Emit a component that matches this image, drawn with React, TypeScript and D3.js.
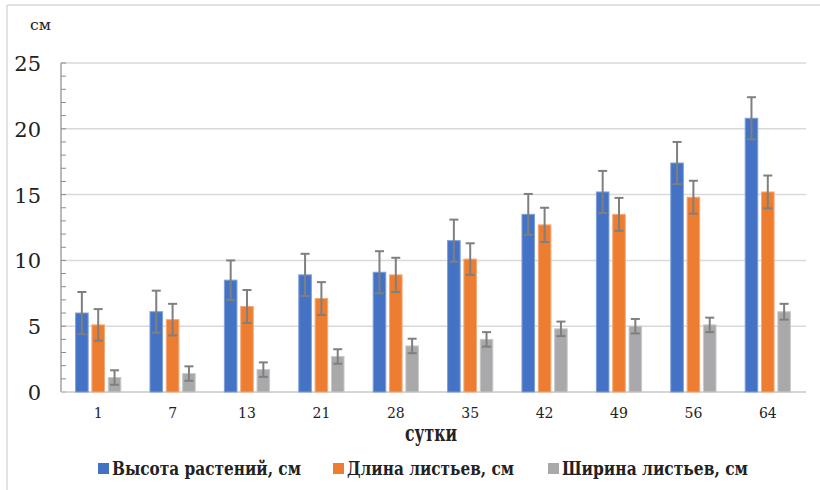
import React from "react";
import * as d3 from "d3";

const categories = ["1", "7", "13", "21", "28", "35", "42", "49", "56", "64"];
const seriesNames = ["Высота растений, см", "Длина листьев, см", "Ширина листьев, см"];
const heightValues = [6.0, 6.1, 8.5, 8.9, 9.1, 11.5, 13.5, 15.2, 17.4, 20.8];
const heightErrors = [1.6, 1.6, 1.5, 1.6, 1.6, 1.6, 1.55, 1.6, 1.6, 1.6];
const lengthValues = [5.1, 5.5, 6.5, 7.1, 8.9, 10.1, 12.7, 13.5, 14.8, 15.2];
const lengthErrors = [1.2, 1.2, 1.25, 1.25, 1.3, 1.2, 1.3, 1.25, 1.25, 1.25];
const widthValues = [1.1, 1.4, 1.7, 2.7, 3.5, 4.0, 4.8, 5.0, 5.1, 6.1];
const widthErrors = [0.55, 0.55, 0.55, 0.55, 0.55, 0.55, 0.55, 0.55, 0.55, 0.6];
const yTicks = [0, 5, 10, 15, 20, 25];
const colors = ["#4472C4", "#ED7D31", "#A9A9AC"];
const strokes = ["#7f9fd8", "#f5a978", "#c9c9cb"];

export default function App() {
  const W = 820, H = 490;
  const left = 61, right = 805, top = 63, bottom = 392;
  const x0 = d3.scaleBand<string>().domain(categories).range([left, right]);
  const x1 = d3.scaleBand<number>().domain([0, 1, 2]).range([-24.5, 24.5]).paddingInner(0.23).paddingOuter(0.115);
  const y = d3.scaleLinear().domain([0, 25]).range([bottom, top]);
  const values = [heightValues, lengthValues, widthValues];
  const errors = [heightErrors, lengthErrors, widthErrors];
  const minor = d3.range(0, 26);
  const serif = "'DejaVu Serif', serif";
  const legendX = [98, 333, 548];
  const legendLen = [189, 167, 186];
  const ts: React.CSSProperties = { fontFamily: serif };

  return (
    <svg width={W} height={H} style={{ position: "absolute", left: 0, top: 0, fontFamily: serif }}>
      <rect x={0} y={0} width={W} height={H} fill="#fff" />
      <line x1={7} x2={7} y1={5} y2={H} stroke="#d9d9d9" strokeWidth={1.5} />
      <line x1={7} x2={W} y1={5} y2={5} stroke="#d9d9d9" strokeWidth={1.5} />
      <text x={30} y={30} fontSize={15} fill="#222" style={ts} textLength={21} lengthAdjust="spacingAndGlyphs">см</text>
      {yTicks.map((t) => (
        <g key={t}>
          {t > 0 && <line x1={left} x2={right + 1} y1={y(t)} y2={y(t)} stroke="#d9d9d9" strokeWidth={1.5} />}
          <text x={41} y={y(t) + 8} fontSize={21} textAnchor="end" fill="#222" style={ts}>{t}</text>
        </g>
      ))}
      {minor.map((t) => (
        <line key={t} x1={left} x2={left + 5} y1={y(t)} y2={y(t)} stroke="#8c8c8c" strokeWidth={1} />
      ))}
      <line x1={left} x2={left} y1={top} y2={bottom} stroke="#8c8c8c" strokeWidth={1.2} />
      <line x1={left} x2={right + 1} y1={bottom} y2={bottom} stroke="#c8c8c8" strokeWidth={1.5} />
      {categories.map((c, i) => {
        const cx = (x0(c) as number) + x0.bandwidth() / 2;
        return (
          <g key={c}>
            {values.map((vals, s) => {
              const bx = cx + (x1(s) as number);
              const bw = x1.bandwidth();
              const v = vals[i];
              const e = errors[s][i];
              const mx = bx + bw / 2;
              return (
                <g key={s}>
                  <rect x={bx} y={y(v)} width={bw} height={bottom - y(v)} fill={colors[s]} stroke={strokes[s]} strokeWidth={1} />
                  <line x1={mx} x2={mx} y1={y(v + e)} y2={y(v - e)} stroke="#7f7f7f" strokeWidth={2} />
                  <line x1={mx - 4.5} x2={mx + 4.5} y1={y(v + e)} y2={y(v + e)} stroke="#7f7f7f" strokeWidth={2} />
                  <line x1={mx - 4.5} x2={mx + 4.5} y1={y(v - e)} y2={y(v - e)} stroke="#7f7f7f" strokeWidth={2} />
                </g>
              );
            })}
            <text x={cx} y={418} fontSize={14} textAnchor="middle" fill="#222" style={ts}>{c}</text>
          </g>
        );
      })}
      <text x={405} y={441} fontSize={22} fontWeight="bold" fill="#222" style={ts} textLength={52} lengthAdjust="spacingAndGlyphs">сутки</text>
      {seriesNames.map((n, s) => (
        <g key={n}>
          <rect x={legendX[s]} y={463} width={11} height={11} fill={colors[s]} />
          <text x={legendX[s] + 14} y={475} fontSize={19} fontWeight="bold" fill="#222" style={ts} textLength={legendLen[s]} lengthAdjust="spacingAndGlyphs">{n}</text>
        </g>
      ))}
    </svg>
  );
}
